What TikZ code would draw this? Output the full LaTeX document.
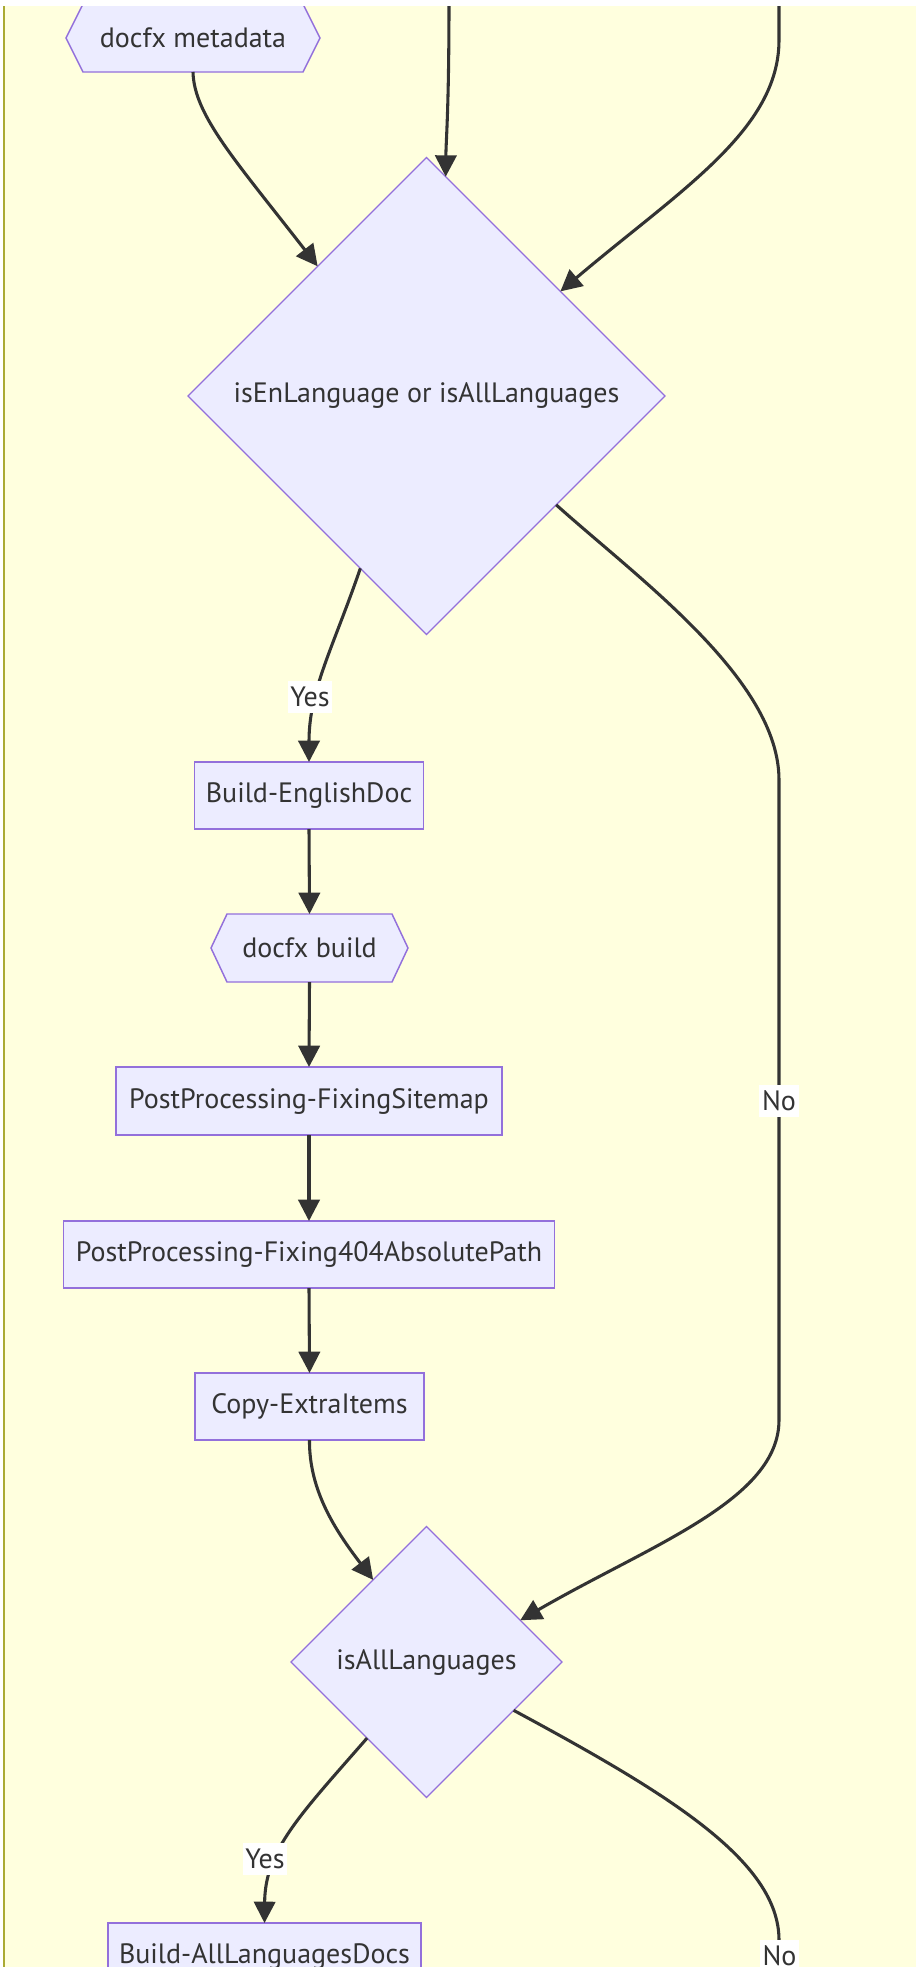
\documentclass[tikz,border=0pt]{standalone}
\usepackage{fontspec}
\setmainfont{PT Sans}
\usetikzlibrary{shapes.geometric,arrows.meta}
\definecolor{bgy}{HTML}{FFFFDE}
\definecolor{bgb}{HTML}{AAAA33}
\definecolor{nfill}{HTML}{ECECFF}
\definecolor{nline}{HTML}{9370DB}
\definecolor{ecol}{HTML}{333333}
\pgfdeclarelayer{bg}
\pgfsetlayers{bg,main}
\begin{document}
\begin{tikzpicture}[x=0.75pt,y=-0.75pt,
  txt/.style={text=ecol,font=\fontsize{21}{25}\selectfont},
  box/.style={txt,draw=nline,fill=nfill,line width=1.1pt,inner sep=0pt,outer sep=0pt},
  hexn/.style={txt,inner sep=0pt,outer sep=0pt},
  hexshape/.style={draw=nline,fill=nfill,line width=1.1pt,line join=miter},
  dia/.style={txt,diamond,draw=nline,fill=nfill,line width=1pt,inner sep=0pt,outer sep=0pt},
  edge/.style={draw=ecol,line width=2.3pt,-{Triangle[length=16pt,width=16pt]}},
  plain/.style={draw=ecol,line width=2.3pt},
  lbl/.style={txt,fill=white,inner xsep=2pt,inner ysep=0pt,minimum height=24pt}]
\useasboundingbox (0,0) rectangle (915,1967);
\clip (0,0) rectangle (915,1967);
\begin{pgfonlayer}{bg}
  \fill[white] (0,0) rectangle (915,1967);
  \fill[bgy] (4,6) rectangle (930,1980);
  \draw[bgb,line width=1.5pt] (4,6) -- (4,1980);
\end{pgfonlayer}

% nodes
\node[hexn, minimum width=190.5pt, minimum height=51pt] (meta) at (193,38) {docfx metadata};
\node[dia, minimum width=357.75pt, minimum height=357.75pt] (d1) at (426.5,396) {isEnLanguage or isAllLanguages};
\node[box, minimum width=171.75pt, minimum height=50.25pt] (en) at (309,795.5) {Build-EnglishDoc};
\node[hexn, minimum width=147.75pt, minimum height=51pt] (build) at (309.5,948) {docfx build};
\node[box, minimum width=289.5pt, minimum height=51pt] (ppfs) at (309,1101) {PostProcessing-FixingSitemap};
\node[box, minimum width=368.25pt, minimum height=50.25pt] (pp404) at (309,1254.5) {PostProcessing-Fixing404AbsolutePath};
\node[box, minimum width=171.75pt, minimum height=50.25pt] (copy) at (309.5,1406.5) {Copy-ExtraItems};
\node[dia, minimum width=203.25pt, minimum height=203.25pt] (d2) at (426.5,1662) {isAllLanguages};
\node[box, minimum width=234.75pt, minimum height=50.25pt] (all) at (264.5,1956.5) {Build-AllLanguagesDocs};

\begin{pgfonlayer}{bg}
  \draw[hexshape] (meta.west) -- ([xshift=12.75pt]meta.north west) -- ([xshift=-12.75pt]meta.north east) -- (meta.east) -- ([xshift=-12.75pt]meta.south east) -- ([xshift=12.75pt]meta.south west) -- cycle;
  \draw[hexshape] (build.west) -- ([xshift=12pt]build.north west) -- ([xshift=-12pt]build.north east) -- (build.east) -- ([xshift=-12pt]build.south east) -- ([xshift=12pt]build.south west) -- cycle;
\end{pgfonlayer}

% free ends of incoming connectors
\coordinate (t1) at (449,0);
\coordinate (t2) at (779,0);

% connectors
\draw[edge] (t1) .. controls (449,110) and (446,140) .. (d1.85);
\draw[edge] (t2) -- (779,40) .. controls (779,130) and (680,190) .. (d1.38);
\draw[edge] (meta.south) .. controls (194,115) and (235,160) .. (d1.130);
\draw[edge] (d1.-111.3) .. controls (333,648) and (309,690) .. (en.north);
\draw[edge] (d1.-40.8) .. controls (640,580) and (779,680) .. (779,780) -- (779,1420) .. controls (779,1500) and (650,1545) .. (d2.24.9);
\draw[edge] (en.south) -- (build.north);
\draw[edge] (build.south) -- (ppfs.north);
\draw[edge] (ppfs.south) -- (pp404.north);
\draw[edge] (pp404.south) -- (copy.north);
\draw[edge] (copy.south) .. controls (309,1490) and (335,1530) .. (d2.123.1);
\draw[edge] (d2.-128.9) .. controls (300,1815) and (265,1850) .. (all.north);
\coordinate (noend) at (779,1990);
\draw[plain] (d2.-29.5) .. controls (665,1792) and (779,1860) .. (779,1940) -- (noend);

% edge labels
\node[lbl] (yes1) at (310,697) {Yes};
\node[lbl] (no1) at (779,1101) {No};
\node[lbl] (yes2) at (265,1859) {Yes};
\node[lbl] (no2) at (779.5,1955.5) {No};

% top strip outside the cluster
\fill[white] (0,0) rectangle (915,6);
\end{tikzpicture}
\end{document}
